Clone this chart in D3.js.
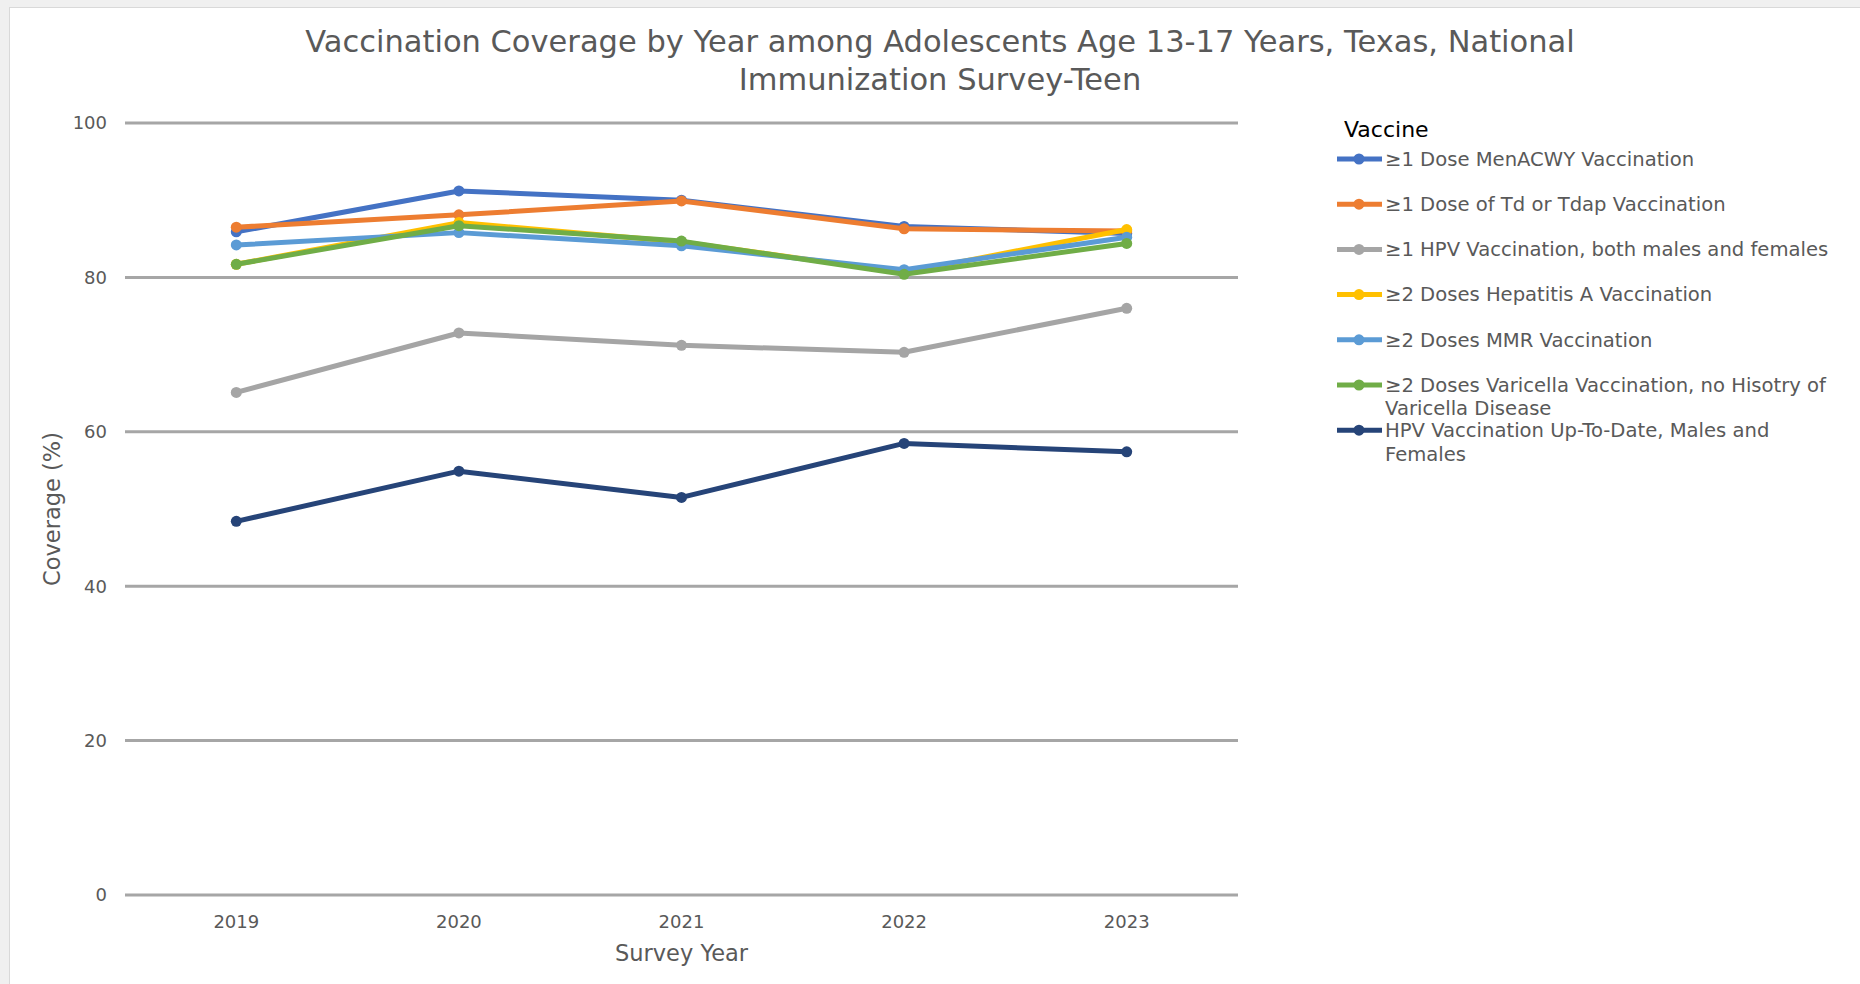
<!DOCTYPE html>
<html>
<head>
<meta charset="utf-8">
<script src="https://cdn.jsdelivr.net/npm/d3@7"></script>
<style>
    body { margin: 0; background: #f0f0f0; font-family: "DejaVu Sans", Verdana, sans-serif; }
    svg { display: block; }
</style>
</head>
<body>
<svg id="chart" width="1860" height="984"></svg>
<script>
// chart data
const years = ['2019', '2020', '2021', '2022', '2023'];
const seriesNames = [
    '≥1 Dose MenACWY Vaccination',
    '≥1 Dose of Td or Tdap Vaccination',
    '≥1 HPV Vaccination, both males and females',
    '≥2 Doses Hepatitis A Vaccination',
    '≥2 Doses MMR Vaccination',
    '≥2 Doses Varicella Vaccination, no Hisotry of Varicella Disease',
    'HPV Vaccination Up-To-Date, Males and Females'
];
const menacwy = [85.9, 91.2, 90.0, 86.6, 85.7];
const tdap = [86.5, 88.1, 89.9, 86.3, 86.0];
const hpvOne = [65.1, 72.8, 71.2, 70.3, 76.0];
const hepA = [81.7, 87.1, 84.6, 80.6, 86.2];
const mmr = [84.2, 85.8, 84.1, 81.0, 85.2];
const varicella = [81.7, 86.7, 84.7, 80.4, 84.4];
const hpvUtd = [48.4, 54.9, 51.5, 58.5, 57.4];
const yTicks = [0, 20, 40, 60, 80, 100];

const colors = ['#4472C4', '#ED7D31', '#A5A5A5', '#FFC000', '#5B9BD5', '#70AD47', '#264478'];
const allValues = [menacwy, tdap, hpvOne, hepA, mmr, varicella, hpvUtd];

const series = seriesNames.map((name, i) => ({
    name: name,
    color: colors[i],
    values: allValues[i].map((v, j) => ({ year: years[j], value: v }))
}));

const svg = d3.select('#chart');

// white chart area with thin frame
svg.append('rect')
    .attr('x', 9.5).attr('y', 7.5)
    .attr('width', 1870).attr('height', 1000)
    .attr('fill', '#fff')
    .attr('stroke', '#d9d9d9');

const plotLeft = 125, plotRight = 1238, plotTop = 123, plotBottom = 895;

const x = d3.scalePoint()
    .domain(years)
    .range([plotLeft, plotRight])
    .padding(0.5);

const y = d3.scaleLinear()
    .domain([0, 100])
    .range([plotBottom, plotTop]);

// gridlines
svg.append('g')
    .selectAll('line')
    .data(yTicks)
    .join('line')
    .attr('x1', plotLeft).attr('x2', plotRight)
    .attr('y1', d => y(d)).attr('y2', d => y(d))
    .attr('stroke', '#a6a6a6')
    .attr('stroke-width', 3);

// y tick labels
svg.append('g')
    .selectAll('text')
    .data(yTicks)
    .join('text')
    .attr('x', 107)
    .attr('y', d => y(d))
    .attr('dy', '0.35em')
    .attr('text-anchor', 'end')
    .attr('font-size', 18)
    .attr('fill', '#595959')
    .text(d => d);

// x tick labels
svg.append('g')
    .selectAll('text')
    .data(years)
    .join('text')
    .attr('x', d => x(d))
    .attr('y', 922)
    .attr('dy', '0.35em')
    .attr('text-anchor', 'middle')
    .attr('font-size', 18)
    .attr('fill', '#595959')
    .text(d => d);

// axis titles
svg.append('text')
    .attr('x', (plotLeft + plotRight) / 2)
    .attr('y', 953)
    .attr('dy', '0.35em')
    .attr('text-anchor', 'middle')
    .attr('font-size', 22.5)
    .attr('fill', '#595959')
    .text('Survey Year');

svg.append('text')
    .attr('transform', `translate(52, ${(plotTop + plotBottom) / 2}) rotate(-90)`)
    .attr('dy', '0.35em')
    .attr('text-anchor', 'middle')
    .attr('font-size', 22.5)
    .attr('fill', '#595959')
    .text('Coverage (%)');

// chart title
const title = svg.append('text')
    .attr('text-anchor', 'middle')
    .attr('font-size', 30.5)
    .attr('fill', '#595959');
title.append('tspan').attr('x', 940).attr('y', 52).text('Vaccination Coverage by Year among Adolescents Age 13-17 Years, Texas, National');
title.append('tspan').attr('x', 940).attr('y', 90).text('Immunization Survey-Teen');

// lines and markers
const line = d3.line()
    .x(d => x(d.year))
    .y(d => y(d.value));

const groups = svg.append('g')
    .selectAll('g')
    .data(series)
    .join('g');

groups.append('path')
    .attr('d', d => line(d.values))
    .attr('fill', 'none')
    .attr('stroke', d => d.color)
    .attr('stroke-width', 5)
    .attr('stroke-linejoin', 'round');

groups.selectAll('circle')
    .data(d => d.values.map(v => ({ ...v, color: d.color })))
    .join('circle')
    .attr('cx', d => x(d.year))
    .attr('cy', d => y(d.value))
    .attr('r', 5.5)
    .attr('fill', d => d.color);

// legend
const legend = svg.append('g');
legend.append('text')
    .attr('x', 1344)
    .attr('y', 129)
    .attr('dy', '0.35em')
    .attr('font-size', 22)
    .attr('fill', '#000')
    .text('Vaccine');

const legendTop = 159, legendStep = 45.2, wrapWidth = 455;

const items = legend.selectAll('g.item')
    .data(series)
    .join('g')
    .attr('class', 'item')
    .attr('transform', (d, i) => `translate(0, ${legendTop + i * legendStep})`);

items.append('line')
    .attr('x1', 1337).attr('x2', 1382)
    .attr('stroke', d => d.color)
    .attr('stroke-width', 5);

items.append('circle')
    .attr('cx', 1359)
    .attr('r', 5.5)
    .attr('fill', d => d.color);

items.append('text')
    .attr('font-size', 19.6)
    .attr('fill', '#595959')
    .each(function(d) {
        const text = d3.select(this);
        const words = d.name.split(' ');
        let lineNo = 0;
        let tspan = text.append('tspan').attr('x', 1385).attr('y', 0).attr('dy', '0.35em');
        let current = [];
        words.forEach(w => {
            current.push(w);
            tspan.text(current.join(' '));
            if (tspan.node().getComputedTextLength() > wrapWidth && current.length > 1) {
                current.pop();
                tspan.text(current.join(' '));
                current = [w];
                lineNo++;
                tspan = text.append('tspan').attr('x', 1385).attr('y', lineNo * 23.5).attr('dy', '0.35em').text(w);
            }
        });
    });
</script>
</body>
</html>
